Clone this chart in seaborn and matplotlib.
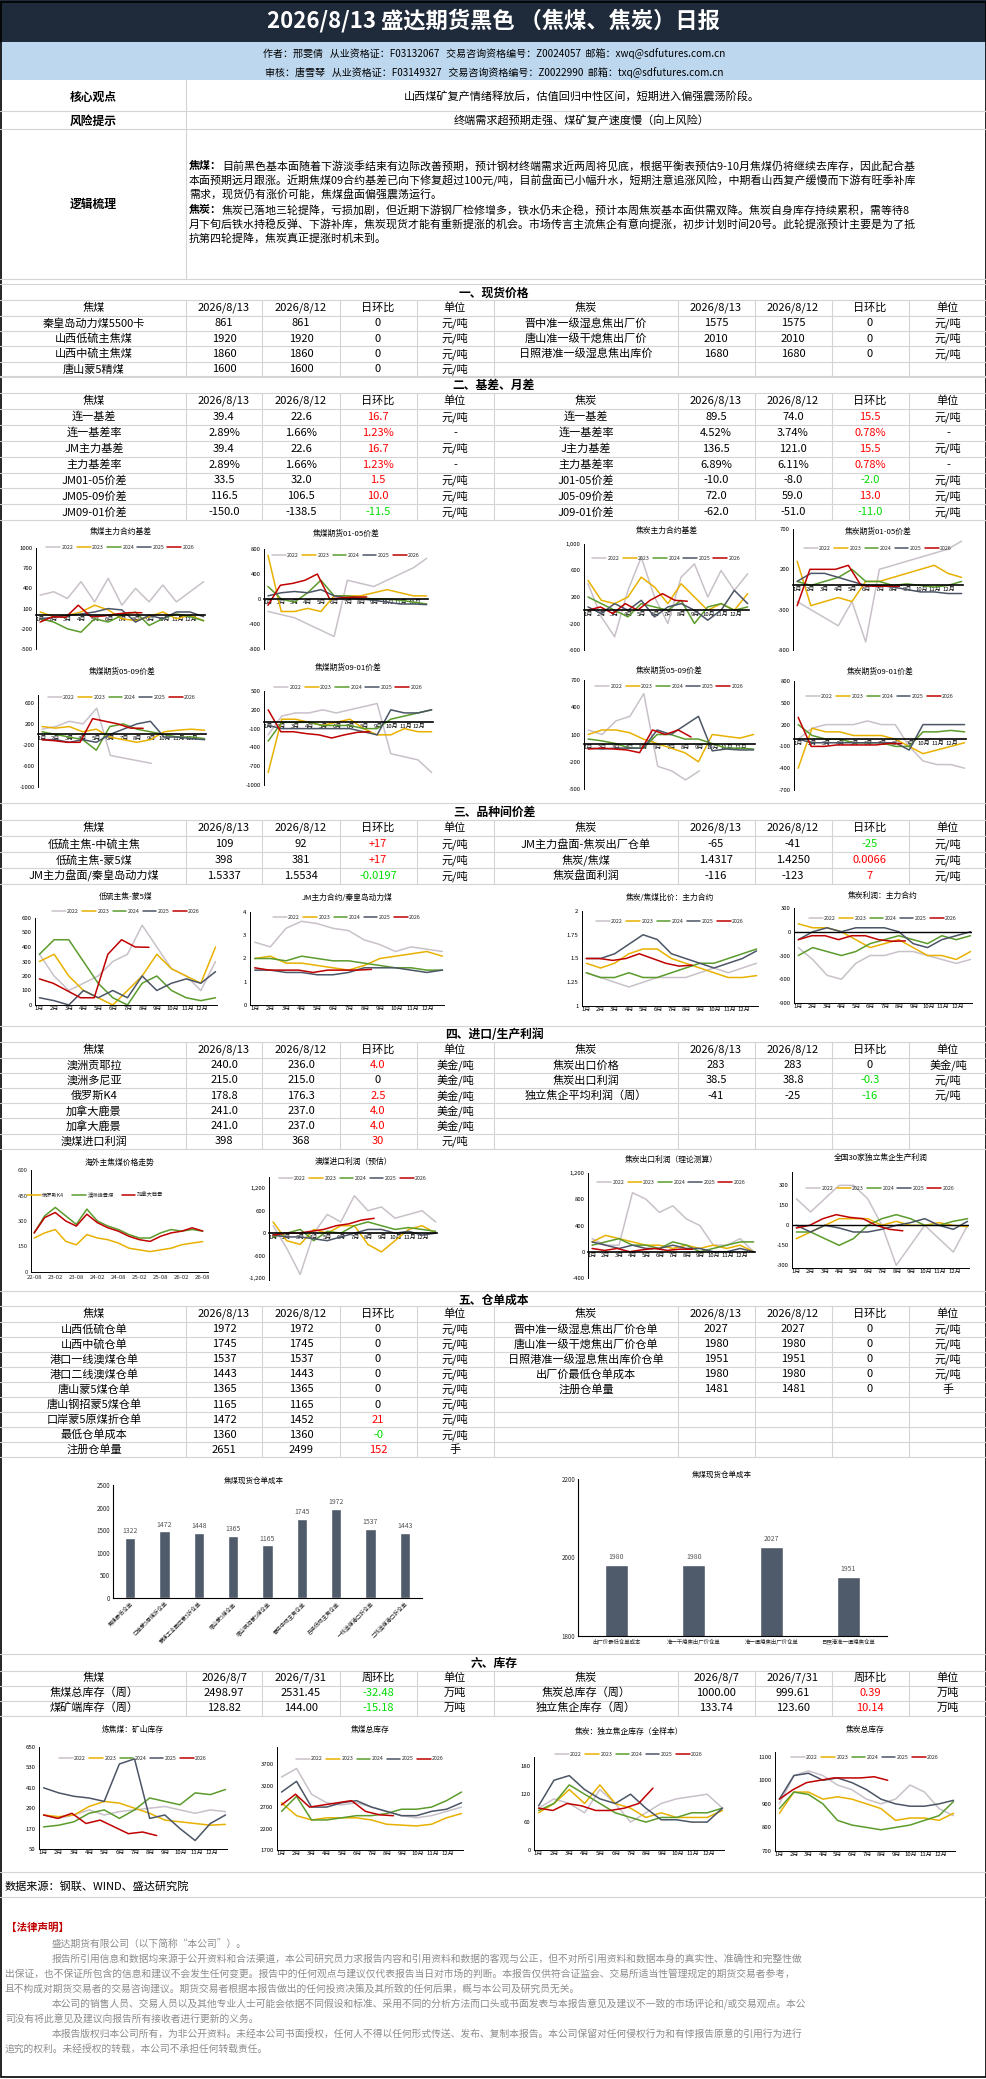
import numpy as np
import matplotlib
matplotlib.use("Agg")
import matplotlib.pyplot as plt
import seaborn as sns
from matplotlib.lines import Line2D
from matplotlib.patches import Rectangle

sns.set_theme(style="white")
plt.rcParams['font.family'] = ['Noto Sans CJK SC', 'DejaVu Sans']
plt.rcParams['axes.unicode_minus'] = False

W, H = 987, 2079
fig = plt.figure(figsize=(W / 100, H / 100), dpi=100)
fig.patch.set_facecolor('white')

RED = '#ff0000'
GRN = '#00dd00'
YC = {'2022': '#c9c1c9', '2023': '#e8b100', '2024': '#5b9b2b', '2025': '#4b5566', '2026': '#c00000'}
MONTHS = [f'{m}月' for m in range(1, 13)]


def T(x, y, s, size=8, color='black', ha='center', va='center', weight='normal', **kw):
    fig.text(x / W, 1 - y / H, s, fontsize=size, color=color, ha=ha, va=va, fontweight=weight, **kw)


def L(x0, y0, x1, y1, color='#d4d4d4', lw=0.8):
    fig.add_artist(Line2D([x0 / W, x1 / W], [1 - y0 / H, 1 - y1 / H], color=color, lw=lw))


def R(x0, y0, x1, y1, fc):
    fig.add_artist(Rectangle((x0 / W, 1 - y1 / H), (x1 - x0) / W, (y1 - y0) / H, facecolor=fc, edgecolor='none'))


def AX(x0, y0, x1, y1):
    return fig.add_axes([x0 / W, 1 - y1 / H, (x1 - x0) / W, (y1 - y0) / H])


# ---------------- header ----------------
R(0, 0, W, 42, '#1f2a3a')
T(W / 2, 21, '2026/8/13 盛达期货黑色 （焦煤、焦炭）日报', size=16, color='white', weight='bold')
R(0, 42, W, 80, '#bdd7ee')
T(494, 54, '作者：邢雯倩   从业资格证：F03132067   交易咨询资格编号：Z0024057  邮箱：xwq@sdfutures.com.cn', size=7.2)
T(494, 73, '审核：唐雪琴   从业资格证：F03149327   交易咨询资格编号：Z0022990  邮箱：txq@sdfutures.com.cn', size=7.2)

L(0, 111, W, 111); L(0, 129, W, 129); L(0, 279, W, 279)
L(186, 80, 186, 279)
T(93, 97, '核心观点', size=8.5, weight='bold')
T(582, 97, '山西煤矿复产情绪释放后，估值回归中性区间，短期进入偏强震荡阶段。', size=8)
T(93, 121, '风险提示', size=8.5, weight='bold')
T(582, 121, '终端需求超预期走强、煤矿复产速度慢（向上风险）', size=8)
T(93, 204, '逻辑梳理', size=8.5, weight='bold')
logic_lines = [
    ('焦煤：', '目前黑色基本面随着下游淡季结束有边际改善预期，预计钢材终端需求近两周将见底，根据平衡表预估9-10月焦煤仍将继续去库存，因此配合基'),
    ('', '本面预期远月跟涨。近期焦煤09合约基差已向下修复超过100元/吨，目前盘面已小幅升水，短期注意追涨风险，中期看山西复产缓慢而下游有旺季补库'),
    ('', '需求，现货仍有涨价可能，焦煤盘面偏强震荡运行。'),
    ('焦炭：', '焦炭已落地三轮提降，亏损加剧，但近期下游钢厂检修增多，铁水仍未企稳，预计本周焦炭基本面供需双降。焦炭自身库存持续累积，需等待8'),
    ('', '月下旬后铁水持稳反弹、下游补库，焦炭现货才能有重新提涨的机会。市场传言主流焦企有意向提涨，初步计划时间20号。此轮提涨预计主要是为了抵'),
    ('', '抗第四轮提降，焦炭真正提涨时机未到。'),
]
for i, (b, s) in enumerate(logic_lines):
    y = 166 + i * 14.6
    x = 189
    if b:
        T(x, y, b, size=7.9, ha='left', weight='bold')
        x += 33
    T(x, y, s, size=7.9, ha='left')

# ---------------- tables ----------------
CX = [94, 224, 301, 378, 455, 586, 716, 793, 870, 948]
CB = [186, 262, 340, 417, 494, 678, 755, 832, 909]


def table(title, yt, yh, rh, head_l, head_r, left, right):
    L(0, yt - 9, W, yt - 9)
    T(494, yt, title, size=8.5, weight='bold')
    n = max(len(left), len(right))
    top = yh - rh / 2
    L(0, top, W, top)
    for k in range(n + 1):
        yy = top + (k + 1) * rh
        L(0, yy, W, yy)
    for xb in CB:
        L(xb, top, xb, top + (n + 1) * rh)
    for j, h in enumerate(head_l + head_r):
        T(CX[j], yh, h, size=8)
    for side, rows in ((0, left), (5, right)):
        for i, row in enumerate(rows):
            y = yh + (i + 1) * rh
            for j, cell in enumerate(row):
                col = 'black'
                if j == 3 and isinstance(cell, tuple):
                    cell, col = cell
                T(CX[side + j], y, cell, size=8, color=col)


HL = ['焦煤', '2026/8/13', '2026/8/12', '日环比', '单位']
HR = ['焦炭', '2026/8/13', '2026/8/12', '日环比', '单位']

spot_l = [['秦皇岛动力煤5500卡', '861', '861', '0', '元/吨'],
          ['山西低硫主焦煤', '1920', '1920', '0', '元/吨'],
          ['山西中硫主焦煤', '1860', '1860', '0', '元/吨'],
          ['唐山蒙5精煤', '1600', '1600', '0', '元/吨']]
spot_r = [['晋中准一级湿息焦出厂价', '1575', '1575', '0', '元/吨'],
          ['唐山准一级干熄焦出厂价', '2010', '2010', '0', '元/吨'],
          ['日照港准一级湿息焦出库价', '1680', '1680', '0', '元/吨']]
table('一、现货价格', 293, 308, 15.3, HL, HR, spot_l, spot_r)

basis_l = [['连一基差', '39.4', '22.6', ('16.7', RED), '元/吨'],
           ['连一基差率', '2.89%', '1.66%', ('1.23%', RED), '-'],
           ['JM主力基差', '39.4', '22.6', ('16.7', RED), '元/吨'],
           ['主力基差率', '2.89%', '1.66%', ('1.23%', RED), '-'],
           ['JM01-05价差', '33.5', '32.0', ('1.5', RED), '元/吨'],
           ['JM05-09价差', '116.5', '106.5', ('10.0', RED), '元/吨'],
           ['JM09-01价差', '-150.0', '-138.5', ('-11.5', GRN), '元/吨']]
basis_r = [['连一基差', '89.5', '74.0', ('15.5', RED), '元/吨'],
           ['连一基差率', '4.52%', '3.74%', ('0.78%', RED), '-'],
           ['J主力基差', '136.5', '121.0', ('15.5', RED), '元/吨'],
           ['主力基差率', '6.89%', '6.11%', ('0.78%', RED), '-'],
           ['J01-05价差', '-10.0', '-8.0', ('-2.0', GRN), '元/吨'],
           ['J05-09价差', '72.0', '59.0', ('13.0', RED), '元/吨'],
           ['J09-01价差', '-62.0', '-51.0', ('-11.0', GRN), '元/吨']]
table('二、基差、月差', 385, 401, 15.9, HL, HR, basis_l, basis_r)

var_l = [['低硫主焦-中硫主焦', '109', '92', ('+17', RED), '元/吨'],
         ['低硫主焦-蒙5煤', '398', '381', ('+17', RED), '元/吨'],
         ['JM主力盘面/秦皇岛动力煤', '1.5337', '1.5534', ('-0.0197', GRN), '元/吨']]
var_r = [['JM主力盘面-焦炭出厂仓单', '-65', '-41', ('-25', GRN), '元/吨'],
         ['焦炭/焦煤', '1.4317', '1.4250', ('0.0066', RED), '元/吨'],
         ['焦炭盘面利润', '-116', '-123', ('7', RED), '元/吨']]
table('三、品种间价差', 812, 828, 16, HL, HR, var_l, var_r)

imp_l = [['澳洲贡耶拉', '240.0', '236.0', ('4.0', RED), '美金/吨'],
         ['澳洲多尼亚', '215.0', '215.0', '0', '美金/吨'],
         ['俄罗斯K4', '178.8', '176.3', ('2.5', RED), '美金/吨'],
         ['加拿大鹿景', '241.0', '237.0', ('4.0', RED), '美金/吨'],
         ['加拿大鹿景', '241.0', '237.0', ('4.0', RED), '美金/吨'],
         ['澳煤进口利润', '398', '368', ('30', RED), '元/吨']]
imp_r = [['焦炭出口价格', '283', '283', '0', '美金/吨'],
         ['焦炭出口利润', '38.5', '38.8', ('-0.3', GRN), '元/吨'],
         ['独立焦企平均利润（周）', '-41', '-25', ('-16', GRN), '元/吨']]
table('四、进口/生产利润', 1035, 1050, 15.2, HL, HR, imp_l, imp_r)

wr_l = [['山西低硫仓单', '1972', '1972', '0', '元/吨'],
        ['山西中硫仓单', '1745', '1745', '0', '元/吨'],
        ['港口一线澳煤仓单', '1537', '1537', '0', '元/吨'],
        ['港口二线澳煤仓单', '1443', '1443', '0', '元/吨'],
        ['唐山蒙5煤仓单', '1365', '1365', '0', '元/吨'],
        ['唐山钢招蒙5煤仓单', '1165', '1165', '0', '元/吨'],
        ['口岸蒙5原煤折仓单', '1472', '1452', ('21', RED), '元/吨'],
        ['最低仓单成本', '1360', '1360', ('-0', GRN), '元/吨'],
        ['注册仓单量', '2651', '2499', ('152', RED), '手']]
wr_r = [['晋中准一级湿息焦出厂价仓单', '2027', '2027', '0', '元/吨'],
        ['唐山准一级干熄焦出厂价仓单', '1980', '1980', '0', '元/吨'],
        ['日照港准一级湿息焦出库价仓单', '1951', '1951', '0', '元/吨'],
        ['出厂价最低仓单成本', '1980', '1980', '0', '元/吨'],
        ['注册仓单量', '1481', '1481', '0', '手']]
table('五、仓单成本', 1300, 1314, 15.1, HL, HR, wr_l, wr_r)

inv_hl = ['焦煤', '2026/8/7', '2026/7/31', '周环比', '单位']
inv_hr = ['焦炭', '2026/8/7', '2026/7/31', '周环比', '单位']
inv_l = [['焦煤总库存（周）', '2498.97', '2531.45', ('-32.48', GRN), '万吨'],
         ['煤矿端库存（周）', '128.82', '144.00', ('-15.18', GRN), '万吨']]
inv_r = [['焦炭总库存（周）', '1000.00', '999.61', ('0.39', RED), '万吨'],
         ['独立焦企库存（周）', '133.74', '123.60', ('10.14', RED), '万吨']]
table('六、库存', 1663, 1678, 15, inv_hl, inv_hr, inv_l, inv_r)

# ---------------- seasonal line charts ----------------


def season(box, title, data, ylim, ticks, tick_labels=None, zero_axis=True, end26=8.4,
           ends=None, legend_y=1.0, title_y=None):
    ax = AX(*box)
    ends = ends or {}
    for yr, vals in data.items():
        e = end26 if yr == '2026' else ends.get(yr, 12.9)
        xs = np.linspace(1, e, len(vals))
        sns.lineplot(x=xs, y=vals, ax=ax, color=YC[yr], lw=1.1, label=yr)
    ax.set_xlim(0.7, 13)
    ax.set_ylim(*ylim)
    ax.set_yticks(ticks)
    if tick_labels:
        ax.set_yticklabels(tick_labels)
    ax.set_xticks(range(1, 13))
    ax.set_xticklabels(MONTHS)
    for s in ('top', 'right'):
        ax.spines[s].set_visible(False)
    ax.spines['left'].set_color('black'); ax.spines['left'].set_linewidth(0.7)
    ax.spines['bottom'].set_color('black')
    if zero_axis:
        ax.spines['bottom'].set_position(('data', 0))
        ax.spines['bottom'].set_linewidth(1.2)
    else:
        ax.spines['bottom'].set_linewidth(0.7)
    ax.tick_params(axis='both', labelsize=4.3, length=1.5, pad=1, colors='black')
    ax.tick_params(axis='x', length=0)
    ax.set_facecolor('none')
    ax.legend(ncol=5, fontsize=3.8, frameon=False, loc='lower center', bbox_to_anchor=(0.5, legend_y - 0.08),
              handlelength=2.6, columnspacing=0.6, handletextpad=0.3, borderaxespad=0)
    x0, y0, x1, y1 = box
    T((x0 + x1) / 2, title_y if title_y else y0 - 14, title, size=5.6)
    return ax


# 焦煤主力合约基差
season((36, 548, 205, 649), '焦煤主力合约基差', {
    '2022': [300, 350, 250, 500, 200, 550, 150, 400, 200, 450, 200, 350, 500],
    '2023': [50, -20, 0, 50, 150, 80, -50, -80, -20, 50, -50, 0, -80],
    '2024': [-50, -100, -200, -250, -50, -100, 0, 50, -150, -50, 20, -20, -80],
    '2025': [-50, -30, 0, 20, 50, 100, 80, -100, 0, -50, 50, 50, -20],
    '2026': [-100, -20, -30, 150, -20, -10, 20, 40, 39]},
    (-500, 1000), [-500, -200, 100, 400, 700, 1000], legend_y=1.04, title_y=532)

season((264, 549, 428, 649), '焦煤期货01-05价差', {
    '2022': [-200, -250, -300, -400, -500, -600, 300, 250, 200, 300, 400, 500, 650],
    '2023': [700, -200, -200, -150, -200, 50, 50, 50, 100, 150, 100, 50, 50],
    '2024': [200, 0, -50, 100, 300, 50, 50, 20, 0, 0, -20, -50, -80],
    '2025': [50, 100, 120, 100, 150, 50, 20, 0, -20, -50, -80, -80, -90],
    '2026': [-100, 220, 250, 300, 400, 0, 20, 30, 33]},
    (-800, 800), [-800, -400, 0, 400, 800], legend_y=0.97, title_y=534)

season((584, 544, 749, 650), '焦炭主力合约基差', {
    '2022': [400, -100, -400, 300, 800, 200, -200, 500, 700, 200, 600, 300, 550],
    '2023': [450, 150, 100, 200, 500, 350, 100, 400, 200, 0, 100, 0, 250],
    '2024': [200, 100, 0, -100, 100, 50, 0, 150, -200, 50, 100, 0, 50],
    '2025': [50, -50, 100, 0, 150, -100, 50, 100, 0, -150, 0, 300, 100],
    '2026': [0, 50, -50, 100, 0, 150, 250, 150, 136]},
    (-600, 1000), [-600, -200, 200, 600, 1000], ['-600', '-200', '200', '600', '1,000'],
    legend_y=0.9, title_y=531)

season((793, 529, 963, 650), '焦炭期货01-05价差', {
    '2022': [-200, -300, -400, -500, -200, -700, 200, 250, 300, 350, 400, 450, 550],
    '2023': [300, -250, -200, -150, -200, 50, 50, 100, 150, 200, 250, 150, 100],
    '2024': [50, 0, 50, 100, 200, 50, 50, 0, 20, 0, -20, 0, 50],
    '2025': [50, 150, 150, 100, 50, 0, 0, -20, -50, -80, -80, -100, -100],
    '2026': [-250, 200, 200, 200, 250, 0, -10, -8, -10]},
    (-800, 700), [-800, -300, 200, 700], legend_y=0.88, title_y=532)

season((38, 695, 206, 787), '焦煤期货05-09价差', {
    '2022': [100, 150, 250, 200, 500, -400, -450, -500, -550],
    '2023': [150, 120, 150, 50, 100, -50, -100, -150, -100, 50, 80, 100, 80],
    '2024': [50, 0, -50, -100, -300, 150, 200, 100, 50, 0, -50, -50, -80],
    '2025': [-100, -100, -150, -100, -150, 0, 100, 200, 250, -50, -50, -80, -100],
    '2026': [-100, -120, -150, -150, 300, 250, 200, 120, 116]},
    (-1000, 750), [-1000, -600, -200, 200, 600], ends={'2022': 9}, legend_y=1.0, title_y=672)

season((264, 691, 433, 785), '焦煤期货09-01价差', {
    '2022': [-200, 100, 150, 150, 200, 150, 200, 250, 300, -500, -550, -600, -800],
    '2023': [-800, 50, 50, 0, -50, 0, 50, -100, -200, -200, -100, -150, -150],
    '2024': [-300, 0, 0, 0, -50, -50, -50, -100, -100, 50, 100, 150, 200],
    '2025': [-50, -100, -100, -100, -100, -100, -100, -150, -200, 200, 150, 150, 200],
    '2026': [200, -150, -150, -180, -200, -250, -200, -160, -150]},
    (-1000, 500), [-1000, -700, -400, -100, 200, 500], legend_y=1.07, title_y=668)

season((584, 680, 755, 789), '焦炭期货05-09价差', {
    '2022': [150, 100, 250, 300, 550, -250, -300, -400, -300],
    '2023': [100, 150, 150, 120, 50, 0, -50, -100, -200, 100, 80, 60, 100],
    '2024': [50, 30, 0, -50, -50, 100, 100, 50, 50, 0, -50, -50, -60],
    '2025': [-50, -60, -50, -50, -50, 150, 100, 200, 300, -80, -60, -70, -70],
    '2026': [-60, -50, -60, -70, -100, 150, 100, 150, 72]},
    (-500, 700), [-500, -200, 100, 400, 700], ends={'2022': 9}, legend_y=0.98, title_y=671)

season((794, 681, 966, 790), '焦炭期货09-01价差', {
    '2022': [0, 150, 200, 200, 200, 250, 200, 200, -100, -300, -350, -350, -400],
    '2023': [-400, 150, 100, 100, 50, 50, 50, 0, -100, -200, -150, -100, -50],
    '2024': [200, 50, 0, 0, -50, -50, -50, -100, -100, 100, 100, 120, 100],
    '2025': [0, -50, -50, -50, -50, -50, -50, -50, -150, 200, 200, 200, 200],
    '2026': [300, -100, -100, -80, -80, -80, -80, -60, -62]},
    (-700, 800), [-700, -400, -100, 200, 500, 800], legend_y=0.9, title_y=672)

# 品种间
season((35, 918, 217, 1005), '低硫主焦-蒙5煤', {
    '2022': [350, 200, 100, 150, 200, 300, 350, 550, 400, 250, 200, 100, 300],
    '2023': [300, 350, 200, 100, 50, 0, 100, 200, 350, 250, 200, 150, 400],
    '2024': [350, 450, 450, 300, 150, 50, 0, 150, 200, 100, 50, 30, 50],
    '2025': [50, 30, 0, 100, 50, 100, 50, 200, 100, 150, 180, 150, 230],
    '2026': [180, 150, 100, 50, 50, 350, 450, 400, 398]},
    (0, 600), [0, 100, 200, 300, 400, 500, 600], zero_axis=False, legend_y=1.1, title_y=897)

season((250, 912, 444, 1005), 'JM主力合约/秦皇岛动力煤', {
    '2022': [2.7, 2.5, 3.3, 3.6, 3.5, 3.3, 3.2, 2.8, 2.6, 2.3, 2.5, 2.4, 2.3],
    '2023': [2.0, 2.1, 1.8, 1.8, 1.7, 1.6, 1.5, 1.7, 2.0, 2.1, 2.2, 2.3, 2.1],
    '2024': [2.0, 2.0, 1.9, 2.1, 2.0, 1.9, 1.9, 1.8, 1.7, 1.6, 1.6, 1.5, 1.5],
    '2025': [1.5, 1.5, 1.4, 1.4, 1.3, 1.3, 1.4, 1.6, 1.6, 1.6, 1.5, 1.4, 1.5],
    '2026': [1.6, 1.5, 1.5, 1.5, 1.4, 1.5, 1.5, 1.5, 1.53]},
    (0, 4), [0, 1, 2, 3, 4], zero_axis=False, legend_y=0.97, title_y=898)

season((582, 911, 758, 1006), '焦炭/焦煤比价：主力合约', {
    '2022': [1.35, 1.3, 1.25, 1.2, 1.25, 1.3, 1.3, 1.3, 1.35, 1.4, 1.35, 1.4, 1.45],
    '2023': [1.45, 1.4, 1.45, 1.55, 1.6, 1.6, 1.5, 1.45, 1.4, 1.35, 1.3, 1.3, 1.32],
    '2024': [1.35, 1.3, 1.3, 1.35, 1.3, 1.3, 1.35, 1.4, 1.45, 1.45, 1.5, 1.55, 1.6],
    '2025': [1.5, 1.5, 1.55, 1.65, 1.75, 1.7, 1.55, 1.5, 1.45, 1.4, 1.45, 1.5, 1.58],
    '2026': [1.5, 1.5, 1.48, 1.5, 1.55, 1.5, 1.45, 1.42, 1.43]},
    (1, 2), [1, 1.25, 1.5, 1.75, 2], ['1', '1.25', '1.5', '1.75', '2'], zero_axis=False,
    legend_y=0.92, title_y=898)

ax12 = season((794, 908, 972, 1003), '焦炭利润：主力合约', {
    '2022': [-200, -350, -550, -600, -400, -300, -300, -250, -250, -300, -350, -400, -350],
    '2023': [100, 50, 50, 0, -100, -200, -150, -100, -200, -300, -300, -350, -250],
    '2024': [-300, -200, -250, -300, -250, -150, -100, -50, -100, -150, -50, -100, -50],
    '2025': [-100, 0, 50, 0, 50, 50, 50, 0, -150, -200, -100, -50, 0],
    '2026': [-100, -50, -50, -100, -50, -50, -100, -120, -116]},
    (-900, 300), [-900, -600, -300, 0, 300], zero_axis=False, legend_y=0.92, title_y=896)
ax12.axhline(0, color='black', lw=1)

# 海外主焦煤价格走势
ax13 = AX(31, 1170, 208, 1272)
dates13 = ['22-08', '22-11', '23-02', '23-05', '23-08', '23-11', '24-02', '24-05', '24-08', '24-11',
           '25-02', '25-05', '25-08', '25-11', '26-02', '26-05', '26-08']
k4 = [200, 230, 250, 180, 160, 220, 200, 190, 170, 140, 130, 120, 130, 140, 160, 170, 179]
fengjing = [230, 330, 380, 330, 280, 370, 300, 270, 250, 220, 200, 200, 230, 250, 240, 250, 240]
lujing = [230, 320, 350, 300, 270, 340, 290, 260, 240, 210, 190, 180, 210, 230, 240, 260, 241]
xi = np.arange(len(dates13))
sns.lineplot(x=xi, y=k4, ax=ax13, color='#e8b100', lw=1.1, label='俄罗斯K4')
sns.lineplot(x=xi, y=fengjing, ax=ax13, color='#5b9b2b', lw=1.1, label='澳洲峰景煤')
sns.lineplot(x=xi, y=lujing, ax=ax13, color='#c00000', lw=1.1, label='加拿大鹿景')
ax13.set_xticks(xi[::2]); ax13.set_xticklabels(dates13[::2])
ax13.set_ylim(0, 600); ax13.set_yticks([0, 150, 300, 450, 600]); ax13.set_xlim(-0.3, 16.5)
for s in ('top', 'right'):
    ax13.spines[s].set_visible(False)
for s in ('left', 'bottom'):
    ax13.spines[s].set_color('black'); ax13.spines[s].set_linewidth(0.7)
ax13.tick_params(labelsize=4.3, length=1.5, pad=1)
ax13.legend(ncol=3, fontsize=3.8, frameon=False, loc='upper left', bbox_to_anchor=(-0.05, 0.83),
            handlelength=2.6, columnspacing=1.5, handletextpad=0.3)
T(120, 1163, '海外主焦煤价格走势', size=5.6)

season((269, 1177, 437, 1280), '澳煤进口利润（预估）', {
    '2022': [200, -400, -1100, 0, 500, 300, 1000, 600, 700, 400, 500, 600, 300],
    '2023': [300, -200, -300, 100, 0, 200, 200, -300, -500, -200, 100, 200, 0],
    '2024': [-100, 0, 100, -200, 50, 0, 200, 300, 200, 100, 150, 100, 50],
    '2025': [-50, -100, -100, -150, -200, -100, 0, 100, 100, 0, 50, -50, 0],
    '2026': [-50, 0, 0, 50, 100, 200, 250, 350, 398]},
    (-1250, 1500), [-1200, -600, 0, 600, 1200], ['-1,200', '-600', '0', '600', '1,200'],
    legend_y=1.02, title_y=1162)

season((588, 1173, 755, 1278), '焦炭出口利润（理论测算）', {
    '2022': [200, 100, 100, 900, 800, 600, 700, 500, 400, 100, 100, 200, 0],
    '2023': [150, 250, 200, 150, 100, 100, 50, 100, 50, 100, 50, 100, 0],
    '2024': [100, 150, 200, 100, 100, 50, 150, 100, 0, 50, 100, 150, 150],
    '2025': [150, 100, 50, 100, 50, 50, 100, 50, 50, 0, 0, 50, 0],
    '2026': [50, 20, 50, 0, 30, 50, 20, 40, 38]},
    (-400, 1200), [-400, 0, 400, 800, 1200], ['-400', '0', '400', '800', '1,200'],
    legend_y=0.95, title_y=1160)

ax16 = season((792, 1172, 969, 1268), '全国30家独立焦企生产利润', {
    '2022': [200, 100, 200, 300, 300, 200, 0, -300, -150, 0, -100, -200, 0],
    '2023': [-100, -50, 0, 50, 50, 50, 0, 30, 0, 0, 20, 0, -10],
    '2024': [-50, -50, -100, -150, -100, 0, 50, 80, 50, 0, 0, 30, 50],
    '2025': [0, -50, 0, -20, -50, -50, -30, 0, 20, 50, 0, -30, 30],
    '2026': [-20, 0, 50, 80, 60, 50, 0, -30, -41]},
    (-320, 400), [-300, -150, 0, 150, 300], zero_axis=False, legend_y=0.86, title_y=1158)
ax16.axhline(0, color='black', lw=1)

# 库存
season((39, 1747, 227, 1849), '炼焦煤：矿山库存', {
    '2022': [250, 230, 250, 280, 250, 270, 280, 290, 300, 280, 260, 280, 270],
    '2023': [250, 240, 250, 300, 330, 320, 290, 260, 220, 210, 200, 190, 195],
    '2024': [180, 190, 210, 260, 280, 230, 280, 350, 330, 310, 380, 370, 400],
    '2025': [410, 380, 360, 350, 330, 550, 580, 230, 250, 170, 100, 200, 250],
    '2026': [250, 230, 260, 200, 220, 180, 140, 150, 129]},
    (50, 650), [50, 170, 290, 410, 530, 650], zero_axis=False, legend_y=0.92, title_y=1730)

season((277, 1747, 463, 1850), '焦煤总库存', {
    '2022': [3400, 3600, 3000, 2800, 2750, 2800, 2700, 2600, 2500, 2450, 2500, 2600, 2700],
    '2023': [2800, 2500, 2400, 2450, 2450, 2450, 2400, 2300, 2280, 2260, 2300, 2450, 2550],
    '2024': [2600, 2950, 2400, 2400, 2450, 2500, 2500, 2550, 2650, 2650, 2700, 2850, 3050],
    '2025': [3050, 3300, 2700, 2700, 2800, 2850, 2700, 2600, 2500, 2500, 2600, 2650, 2800],
    '2026': [2750, 3000, 2700, 2750, 2800, 2850, 2600, 2520, 2499]},
    (1700, 4100), [1700, 2200, 2700, 3200, 3700], zero_axis=False, legend_y=0.92, title_y=1730)

season((534, 1757, 724, 1850), '焦炭：独立焦企库存（全样本）', {
    '2022': [90, 110, 100, 80, 130, 100, 60, 80, 100, 110, 115, 120, 90],
    '2023': [80, 100, 130, 100, 140, 100, 90, 70, 80, 70, 70, 70, 85],
    '2024': [85, 100, 140, 120, 100, 80, 70, 60, 70, 70, 80, 80, 90],
    '2025': [95, 150, 160, 130, 110, 100, 120, 90, 65, 65, 60, 60, 90],
    '2026': [90, 85, 100, 95, 85, 85, 90, 100, 133]},
    (0, 200), [0, 60, 120, 180], zero_axis=False, legend_y=1.06, title_y=1732)

season((775, 1752, 955, 1851), '焦炭总库存', {
    '2022': [900, 1020, 1040, 1020, 980, 960, 920, 900, 920, 980, 950, 880, 850],
    '2023': [860, 950, 950, 920, 930, 920, 900, 880, 830, 840, 840, 830, 860],
    '2024': [880, 950, 940, 900, 830, 810, 800, 790, 800, 810, 830, 850, 910],
    '2025': [920, 1020, 1030, 1000, 1010, 990, 960, 920, 900, 890, 890, 900, 915],
    '2026': [920, 960, 990, 1000, 1010, 1010, 1010, 1015, 1000]},
    (700, 1120), [700, 800, 900, 1000, 1100], zero_axis=False, legend_y=0.98, title_y=1730)

# ---------------- bar charts ----------------
bar1_labels = ['焦煤最低仓单', '口岸蒙5原煤折仓单', '蒙煤工业园区蒙5折仓单', '唐山蒙5煤仓单', '唐山钢招蒙5煤仓单',
               '晋中中硫主焦仓单', '吕梁低硫主焦仓单', '一线澳煤港口折仓单', '二线澳煤港口折仓单']
bar1_vals = [1322, 1472, 1448, 1365, 1165, 1745, 1972, 1537, 1443]
bar2_labels = ['出厂价最低仓单成本', '准一干熄焦出厂价仓单', '准一湿熄焦出厂价仓单', '日照港准一湿熄焦仓单']
bar2_vals = [1980, 1980, 2027, 1951]


def bars(box, title, labels, vals, ylim, ticks, rot, width, title_xy):
    ax = AX(*box)
    sns.barplot(x=labels, y=vals, ax=ax, color='#4f5a6a', width=width, saturation=1)
    ax.set_ylim(*ylim); ax.set_yticks(ticks)
    for s in ('top', 'right'):
        ax.spines[s].set_visible(False)
    for s in ('left', 'bottom'):
        ax.spines[s].set_color('black'); ax.spines[s].set_linewidth(0.8)
    ax.tick_params(axis='y', labelsize=4.5, length=0, pad=2)
    ax.tick_params(axis='x', labelsize=3.9, length=0, pad=2)
    if rot:
        for t in ax.get_xticklabels():
            t.set_rotation(45); t.set_ha('right'); t.set_rotation_mode('anchor')
    for i, v in enumerate(vals):
        ax.text(i, v + (ylim[1] - ylim[0]) * 0.025, str(v), ha='center', va='bottom', fontsize=5, color='#555555')
    T(*title_xy, title, size=5.4)
    return ax


bars((113, 1485, 422, 1598), '焦煤现货仓单成本', bar1_labels, bar1_vals, (0, 2500),
     [0, 500, 1000, 1500, 2000, 2500], True, 0.3, (254, 1481))
bars((578, 1479, 887, 1636), '焦煤现货仓单成本', bar2_labels, bar2_vals, (1800, 2200),
     [1800, 2000, 2200], False, 0.3, (722, 1475))

# ---------------- footer ----------------
L(0, 1872, W, 1872)
T(5, 1886, '数据来源：钢联、WIND、盛达研究院', size=8, ha='left')
L(0, 1897, W, 1897)
T(6, 1928, '【法律声明】', size=7.6, color='#c00000', ha='left', weight='bold')
legal = [
    (True, '盛达期货有限公司（以下简称“本公司”）。'),
    (True, '报告所引用信息和数据均来源于公开资料和合法渠道，本公司研究员力求报告内容和引用资料和数据的客观与公正，但不对所引用资料和数据本身的真实性、准确性和完整性做'),
    (False, '出保证，也不保证所包含的信息和建议不会发生任何变更。报告中的任何观点与建议仅代表报告当日对市场的判断。本报告仅供符合证监会、交易所适当性管理规定的期货交易者参考，'),
    (False, '且不构成对期货交易者的交易咨询建议。期货交易者根据本报告做出的任何投资决策及其所致的任何后果，概与本公司及研究员无关。'),
    (True, '本公司的销售人员、交易人员以及其他专业人士可能会依据不同假设和标准、采用不同的分析方法而口头或书面发表与本报告意见及建议不一致的市场评论和/或交易观点。本公'),
    (False, '司没有将此意见及建议向报告所有接收者进行更新的义务。'),
    (True, '本报告版权归本公司所有，为非公开资料。未经本公司书面授权，任何人不得以任何形式传送、发布、复制本报告。本公司保留对任何侵权行为和有悖报告原意的引用行为进行'),
    (False, '追究的权利。未经授权的转载，本公司不承担任何转载责任。'),
]
for i, (ind, s) in enumerate(legal):
    T(52 if ind else 5, 1944 + i * 15, s, size=7.0, color='#8c8c8c', ha='left')

# outer border
fig.add_artist(Rectangle((0.0008, 0.0008), 0.9984, 0.9984, fill=False, edgecolor='black', lw=1.2))

fig.savefig('out.png', dpi=100)
